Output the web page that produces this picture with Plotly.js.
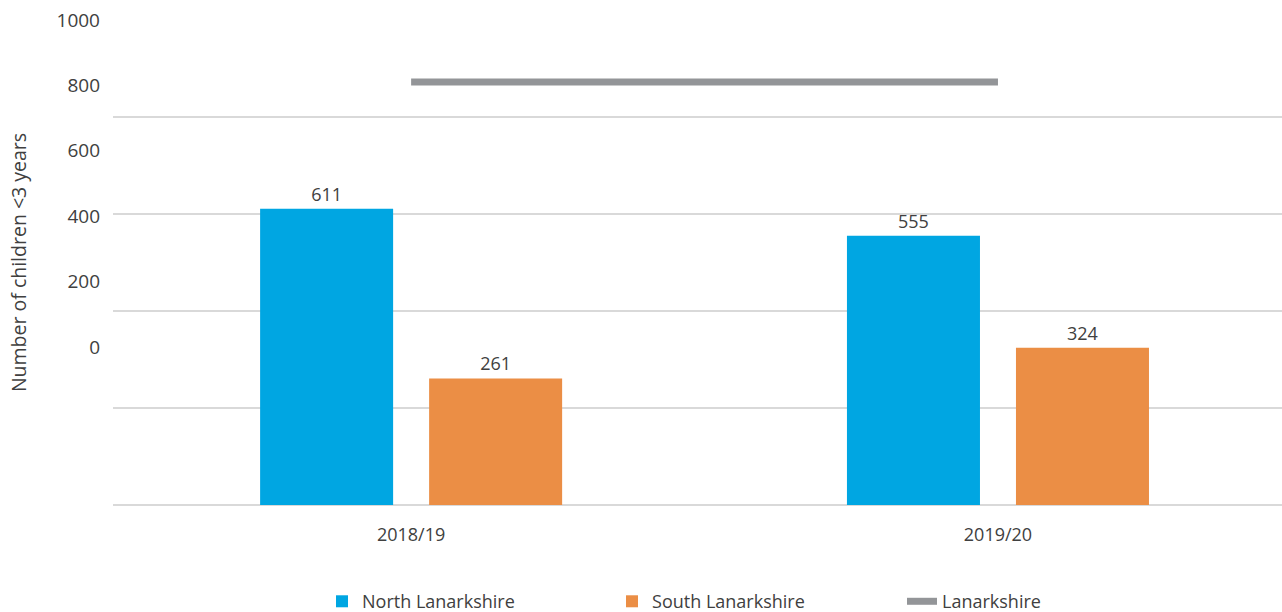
<!DOCTYPE html>
<html><head><meta charset="utf-8">
<script src="https://cdn.plot.ly/plotly-3.0.1.min.js"></script>
<style>html,body{margin:0;padding:0;background:#fff}#chart{width:1282px;height:612px}</style>
</head><body><div id="chart"></div>
<script>
const years = ["2018/19", "2019/20"];
const northLanarkshire = [611, 555];
const southLanarkshire = [261, 324];
const lanarkshire = [872, 872];
const yTickVals = [0, 200, 400, 600, 800, 1000];
const yTickText = ["0", "200", "400", "600", "800", "1000"];

const FONT = "'Open Sans', Lato, sans-serif";
const TXT = "#404040";

const traces = [
  {type: "bar", name: "North Lanarkshire", x: years, y: northLanarkshire,
   marker: {color: "#00A6E2"}, text: northLanarkshire.map(String), textposition: "outside",
   textfont: {family: FONT, size: 18, color: TXT}, cliponaxis: false, hoverinfo: "skip"},
  {type: "bar", name: "South Lanarkshire", x: years, y: southLanarkshire,
   marker: {color: "#EB8E45"}, text: southLanarkshire.map(String), textposition: "outside",
   textfont: {family: FONT, size: 18, color: TXT}, cliponaxis: false, hoverinfo: "skip"},
  {type: "scatter", mode: "lines", name: "Lanarkshire", x: years, y: lanarkshire,
   line: {color: "#939598", width: 7}, hoverinfo: "skip"}
];

const layout = {
  width: 1282, height: 612,
  margin: {l: 113, r: 0, t: 20, b: 107, autoexpand: false},
  paper_bgcolor: "#fff", plot_bgcolor: "#fff",
  font: {family: FONT, size: 18, color: TXT},
  barmode: "group", bargap: 0.424, bargroupgap: 0.213,
  showlegend: true,
  legend: {orientation: "h", x: 0.1788, xanchor: "left", y: -0.161, yanchor: "top",
           entrywidth: 245, entrywidthmode: "pixels", font: {family: FONT, size: 18, color: TXT}},
  xaxis: {type: "category", range: [-0.508, 1.484], showgrid: false, zeroline: false,
          showline: false, ticks: "", ticklabelstandoff: 17, automargin: false,
          tickfont: {family: FONT, size: 18, color: TXT}},
  yaxis: {range: [0, 1000], tickvals: yTickVals, showticklabels: false, showgrid: true,
          gridcolor: "#d9d9d9", gridwidth: 1.5, zeroline: true, zerolinecolor: "#d9d9d9",
          zerolinewidth: 1.5, showline: false, ticks: "", automargin: false},
  yaxis2: {overlaying: "y", side: "left", range: [-483, 1000], tickvals: yTickVals,
           ticktext: yTickText, showgrid: false, zeroline: false, showline: false, ticks: "",
           ticklabelstandoff: 12, automargin: false, tickfont: {family: FONT, size: 19, color: TXT},
           title: {text: "Number of children <3 years", standoff: 24,
                   font: {family: FONT, size: 19.5, color: TXT}}}
};

// invisible helper trace so the label axis is drawn
traces.push({type: "scatter", mode: "markers", x: [years[0]], y: [0], yaxis: "y2",
             marker: {opacity: 0}, showlegend: false, hoverinfo: "skip"});

Plotly.newPlot("chart", traces, layout, {staticPlot: true});
</script></body></html>
